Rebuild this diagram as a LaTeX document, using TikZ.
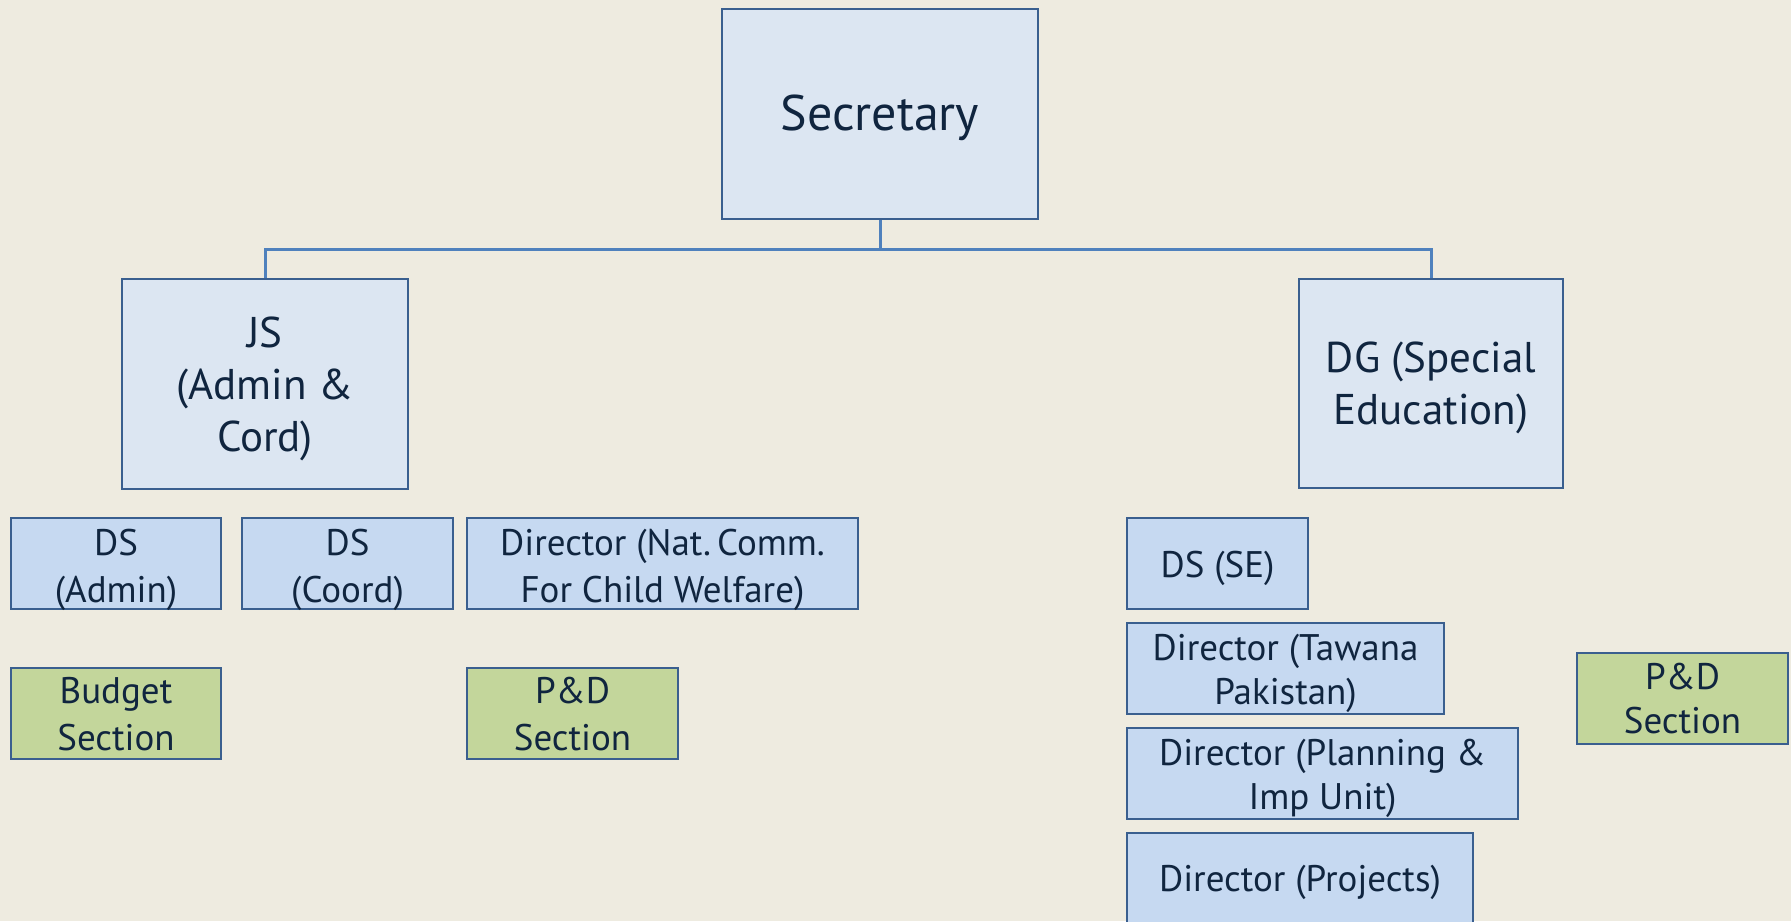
\documentclass[tikz,border=0pt]{standalone}
\usepackage{fontspec}
\setmainfont{PT Sans}
\definecolor{bg}{HTML}{EEEBE0}
\definecolor{topfill}{HTML}{DCE6F2}
\definecolor{lowfill}{HTML}{C6D9F1}
\definecolor{greenfill}{HTML}{C3D69B}
\definecolor{edge}{HTML}{3A5F8F}
\definecolor{wire}{HTML}{4F81BD}
\definecolor{ink}{HTML}{10253F}
\newcommand\liftby[1]{\rule{0pt}{#1}}
\begin{document}
\begin{tikzpicture}[x=1pt,y=-1pt,
  box/.style={draw=edge, line width=2.8pt, inner sep=0pt, align=center, text=ink},
  topbox/.style={box, fill=topfill},
  lowbox/.style={box, fill=lowfill, minimum height=91pt, font=\fontsize{37}{47}\selectfont},
  greenbox/.style={box, fill=greenfill, minimum height=91pt, font=\fontsize{37}{47}\selectfont},
  rightskip/.style={font=\fontsize{37}{44}\selectfont},
  bigtext/.style={font=\fontsize{43}{52}\selectfont},
  link/.style={draw=wire, line width=3pt}]
\fill[bg] (0,0) rectangle (1791,921);
\useasboundingbox (0,0) rectangle (1791,921);
\begin{scope}
\clip (0,0) rectangle (1791,921);
\node[topbox, minimum width=316pt, minimum height=210pt, font=\fontsize{50}{58}\selectfont] (sec) at (880,114) {\liftby{33pt}\smash{Secretary}};
\node[topbox, bigtext, minimum width=286pt, minimum height=210pt] (js) at (265,384) {\liftby{29pt}JS\\(Admin \&\\\smash{Cord)}};
\node[topbox, bigtext, minimum width=264pt, minimum height=209pt] (dg) at (1431,383.5) {\liftby{28pt}DG (Special\\\smash{Education)}};
\coordinate (bus) at (880,249);
\draw[link] (sec.south) -- (bus) -| (js.north);
\draw[link] (bus) -| (dg.north);
\node[lowbox, minimum width=210pt] (dsadmin) at (116,563.5) {\liftby{30pt}DS\\\smash{(Admin)}};
\node[lowbox, minimum width=211pt] (dscoord) at (347.5,563.5) {\liftby{30pt}DS\\\smash{(Coord)}};
\node[lowbox, minimum width=391pt] (dirnat) at (662.5,563.5) {\liftby{30pt}Director (Nat.\,Comm.\\\smash{For Child Welfare)}};
\node[greenbox, minimum width=210pt] (budget) at (116,713.5) {\liftby{27pt}Budget\\\smash{Section}};
\node[greenbox, minimum width=211pt] (pdleft) at (572.5,713.5) {\liftby{27pt}P\&D\\\smash{Section}};
\node[lowbox, minimum width=181pt] (dsse) at (1217.5,563.5) {\liftby{27pt}\smash{DS (SE)}};
\node[lowbox, rightskip, minimum width=317pt] (tawana) at (1285.5,668.5) {\liftby{27pt}Director (Tawana\\\smash{Pakistan)}};
\node[lowbox, rightskip, minimum width=391pt] (planning) at (1322.5,773.5) {\liftby{27pt}Director (Planning \&\\\smash{Imp Unit)}};
\node[lowbox, minimum width=346pt] (projects) at (1300,878.5) {\liftby{25pt}\smash{Director (Projects)}};
\node[greenbox, rightskip, minimum width=211pt] (pdright) at (1682.5,698.5) {\liftby{26pt}P\&D\\\smash{Section}};
\end{scope}
\end{tikzpicture}
\end{document}
